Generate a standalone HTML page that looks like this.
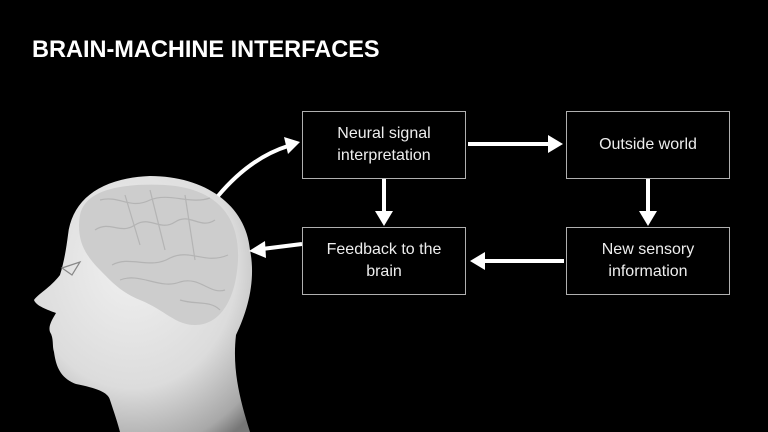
<!DOCTYPE html>
<html><head><style>
html,body{margin:0;padding:0;background:#000;}
body{width:768px;height:432px;position:relative;overflow:hidden;font-family:"Liberation Sans",sans-serif;}
.t{position:absolute;left:32px;top:36px;color:#fff;font-weight:bold;font-size:24px;transform:scaleX(0.98);transform-origin:left;}
.b{position:absolute;border:1.5px solid #b0b0b0;color:#eee;font-size:16px;line-height:22px;text-align:center;display:flex;align-items:center;justify-content:center;box-sizing:border-box;}
</style></head><body>
<svg width="768" height="432" style="position:absolute;left:0;top:0">
<defs>
<radialGradient id="hg" cx="0.45" cy="0.35" r="0.8">
<stop offset="0" stop-color="#f0f0f0"/><stop offset="0.6" stop-color="#dcdcdc"/><stop offset="0.9" stop-color="#a8a8a8"/><stop offset="1" stop-color="#777"/>
</radialGradient>
</defs>
<path d="M250,432 C240,400 232,370 236,335 C248,310 256,280 250,250 C246,205 205,176 150,176 C100,178 72,200 68,235 C66,250 64,262 60,275 C50,288 38,294 34,300 C36,306 48,310 56,313 C52,320 48,326 50,332 C54,338 52,346 54,352 C56,366 60,378 76,384 C96,388 108,392 110,400 C114,412 118,424 120,432 Z" fill="url(#hg)"/>
<path d="M80,215 C85,190 120,183 165,185 C215,188 240,215 238,260 C236,300 220,325 195,325 C175,325 165,310 140,300 C120,292 110,280 100,270 C85,255 76,240 80,215 Z" fill="#cdcdcd"/>
<g fill="none" stroke="#b4b4b4" stroke-width="1.2">
<path d="M95,230 C110,220 120,235 135,225 C150,215 160,232 175,222 C190,212 200,230 215,220"/>
<path d="M112,265 C130,255 150,270 170,258 C190,248 205,265 228,255"/>
<path d="M120,280 C140,272 160,290 180,282 C200,276 210,295 225,290"/>
<path d="M100,200 C120,195 130,210 150,200 C170,192 190,205 210,198"/>
<path d="M150,190 L165,250 M185,195 L195,260 M125,195 L140,245"/>
<path d="M180,300 C195,305 210,300 220,310"/>
<path d="M62,268 L80,262 L72,275 Z" stroke="#888"/>
</g>
<g stroke="#fff" stroke-width="4" fill="#fff">
<path d="M218,196 Q250,158 288,146" fill="none"/>
<polygon points="300,142 284,137 288,154" stroke="none"/>
<line x1="302" y1="244" x2="262" y2="249"/>
<polygon points="249,251 265,241 266,258" stroke="none"/>
<line x1="468" y1="144" x2="550" y2="144"/>
<polygon points="563,144 548,135 548,153" stroke="none"/>
<line x1="384" y1="179" x2="384" y2="212"/>
<polygon points="384,226 375,211 393,211" stroke="none"/>
<line x1="648" y1="179" x2="648" y2="212"/>
<polygon points="648,226 639,211 657,211" stroke="none"/>
<line x1="564" y1="261" x2="484" y2="261"/>
<polygon points="470,261 485,252 485,270" stroke="none"/>
</g>
</svg>
<div class="t">BRAIN-MACHINE INTERFACES</div>
<div class="b" style="left:302px;top:111px;width:164px;height:68px;">Neural signal<br>interpretation</div>
<div class="b" style="left:566px;top:111px;width:164px;height:68px;">Outside world</div>
<div class="b" style="left:302px;top:227px;width:164px;height:68px;">Feedback to the<br>brain</div>
<div class="b" style="left:566px;top:227px;width:164px;height:68px;">New sensory<br>information</div>
</body></html>
